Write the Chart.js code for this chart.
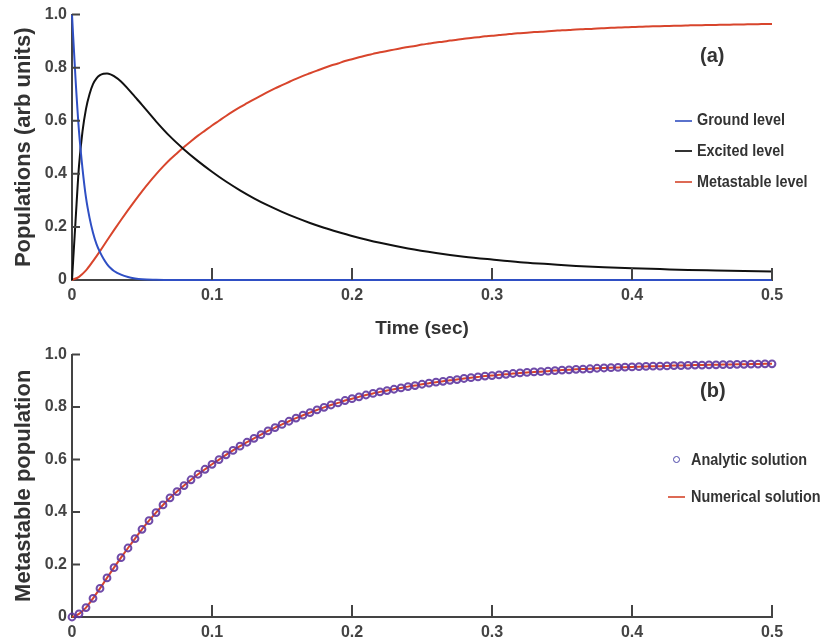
<!DOCTYPE html>
<html>
<head>
<meta charset="utf-8">
<script src="https://cdn.jsdelivr.net/npm/chart.js@4.4.1/dist/chart.umd.min.js"></script>
<style>
  html, body { margin: 0; padding: 0; background: #fff; }
  #wrap { position: relative; width: 825px; height: 643px; overflow: hidden;
          font-family: "Liberation Sans", Arial, sans-serif; }
  canvas { position: absolute; left: 0; }
  #topChart { top: 0; }
  #bottomChart { top: 340px; }
  .lab { position: absolute; font-weight: bold; color: #333; white-space: nowrap;
         font-size: 16px; line-height: 20px; transform: scaleX(0.9); transform-origin: left center; }
  .tag { position: absolute; font-weight: bold; color: #333; font-size: 20px; line-height: 24px; }
  .key { position: absolute; width: 17px; height: 2px; }
  .dot { position: absolute; width: 5px; height: 5px; border: 1.8px solid #4a45a8; border-radius: 50%; }
</style>
</head>
<body>
<div id="wrap">
  <canvas id="topChart" width="825" height="340"></canvas>
  <canvas id="bottomChart" width="825" height="303"></canvas>

  <div class="tag" style="left:700px; top:43px;">(a)</div>
  <div class="key" style="left:675px; top:120px; background:#5a72cc;"></div>
  <div class="lab" style="left:697px; top:110px;">Ground level</div>
  <div class="key" style="left:675px; top:150px; background:#333;"></div>
  <div class="lab" style="left:697px; top:141px;">Excited level</div>
  <div class="key" style="left:675px; top:181px; background:#dd6a55;"></div>
  <div class="lab" style="left:697px; top:172px;">Metastable level</div>

  <div class="tag" style="left:700px; top:378px;">(b)</div>
  <div class="dot" style="left:673px; top:456px;"></div>
  <div class="lab" style="left:691px; top:450px;">Analytic solution</div>
  <div class="key" style="left:668px; top:496px; background:#dd6a55;"></div>
  <div class="lab" style="left:691px; top:487px;">Numerical solution</div>
</div>

<script>
// tiempos (s) para niveles fundamental y excitado
const tTop = [0, 0.0025, 0.005, 0.0075, 0.01, 0.0125, 0.015, 0.0175, 0.02, 0.0225,
  0.025, 0.0275, 0.03, 0.035, 0.04, 0.045, 0.05, 0.06, 0.07, 0.08, 0.09, 0.1,
  0.11, 0.12, 0.13, 0.14, 0.15, 0.16, 0.17, 0.18, 0.19, 0.2, 0.22, 0.24, 0.26,
  0.28, 0.3, 0.32, 0.34, 0.36, 0.38, 0.4, 0.42, 0.44, 0.46, 0.48, 0.5];

const ground = [1, 0.76, 0.56, 0.42, 0.31, 0.235, 0.178, 0.135, 0.105, 0.08,
  0.06, 0.045, 0.034, 0.02, 0.011, 0.006, 0.003, 0.001, 0, 0, 0, 0,
  0, 0, 0, 0, 0, 0, 0, 0, 0, 0, 0, 0, 0,
  0, 0, 0, 0, 0, 0, 0, 0, 0, 0, 0, 0];

const excited = [0, 0.22, 0.43, 0.56, 0.645, 0.70, 0.738, 0.76, 0.772, 0.777,
  0.778, 0.775, 0.768, 0.748, 0.72, 0.69, 0.66, 0.598, 0.541, 0.492, 0.448, 0.408,
  0.371, 0.338, 0.308, 0.281, 0.257, 0.235, 0.215, 0.197, 0.181, 0.166, 0.140, 0.119, 0.102,
  0.088, 0.077, 0.067, 0.060, 0.053, 0.048, 0.044, 0.041, 0.038, 0.036, 0.034, 0.032];

// nivel metaestable, muestreado cada 0.005 s
const metaStep = 0.005;
const metastable = [0, 0.012, 0.036, 0.071, 0.109, 0.149, 0.188, 0.226, 0.263, 0.299,
  0.334, 0.367, 0.398, 0.427, 0.454, 0.478, 0.501, 0.523, 0.544, 0.563,
  0.582, 0.600, 0.618, 0.635, 0.651, 0.666, 0.681, 0.695, 0.709, 0.722,
  0.734, 0.746, 0.758, 0.769, 0.779, 0.789, 0.799, 0.808, 0.816, 0.825,
  0.832, 0.839, 0.846, 0.852, 0.858, 0.863, 0.868, 0.873, 0.878, 0.882,
  0.887, 0.891, 0.895, 0.898, 0.902, 0.905, 0.909, 0.912, 0.915, 0.918,
  0.920, 0.923, 0.925, 0.928, 0.930, 0.932, 0.934, 0.935, 0.937, 0.939,
  0.941, 0.942, 0.944, 0.945, 0.946, 0.948, 0.949, 0.950, 0.951, 0.952,
  0.953, 0.954, 0.955, 0.956, 0.956, 0.957, 0.958, 0.958, 0.959, 0.960,
  0.960, 0.961, 0.961, 0.962, 0.962, 0.963, 0.963, 0.964, 0.964, 0.965,
  0.965];

const xTicks = [0, 0.1, 0.2, 0.3, 0.4, 0.5];
const yTicks = [0, 0.2, 0.4, 0.6, 0.8, 1.0];

const pts = (xs, ys) => ys.map((v, i) => ({ x: xs[i], y: v }));
const metaPts = metastable.map((v, i) => ({ x: i * metaStep, y: v }));

Chart.defaults.font.family = '"Liberation Sans", Arial, sans-serif';
Chart.defaults.color = "#444";

const fmt = (v) => (Math.abs(v) < 1e-9 ? "0" : v.toFixed(1));

// marcas de los ejes hacia dentro (estilo matlab)
const inwardTicks = {
  id: "inwardTicks",
  afterDatasetsDraw(chart) {
    const { ctx, chartArea, scales } = chart;
    ctx.save();
    ctx.strokeStyle = "#444";
    ctx.lineWidth = 2;
    ctx.beginPath();
    xTicks.forEach((v) => {
      if (v === 0) return;
      const px = scales.x.getPixelForValue(v);
      ctx.moveTo(px, chartArea.bottom);
      ctx.lineTo(px, chartArea.bottom - 12);
    });
    yTicks.forEach((v) => {
      if (v === 0) return;
      const py = scales.y.getPixelForValue(v);
      ctx.moveTo(chartArea.left, py);
      ctx.lineTo(chartArea.left + 8, py);
    });
    ctx.stroke();
    ctx.restore();
  },
};

function makeScales(yTitle, xTitle, xHeight) {
  return {
    x: {
      type: "linear",
      min: 0,
      max: 0.5,
      grid: { display: false, drawTicks: false },
      border: { display: true, color: "#444", width: 2 },
      ticks: {
        stepSize: 0.1,
        padding: 6,
        maxRotation: 0,
        color: "#444",
        font: { size: 16, weight: "bold" },
        callback: fmt,
      },
      title: {
        display: !!xTitle,
        text: xTitle,
        color: "#333",
        padding: { top: 0, bottom: 0 },
        font: { size: 19, weight: "bold" },
      },
      afterFit(scale) {
        scale.height = xHeight;
      },
    },
    y: {
      min: 0,
      max: 1,
      grid: { display: false, drawTicks: false },
      border: { display: true, color: "#444", width: 2 },
      ticks: {
        stepSize: 0.2,
        padding: 5,
        color: "#444",
        font: { size: 16, weight: "bold" },
        callback: fmt,
      },
      title: {
        display: true,
        text: yTitle,
        color: "#333",
        padding: { top: 11, bottom: 0 },
        font: { size: 22, weight: "bold" },
      },
      afterFit(scale) {
        scale.width = 72;
      },
    },
  };
}

const lineDefaults = {
  pointRadius: 0,
  borderWidth: 2,
  cubicInterpolationMode: "monotone",
  clip: false,
};

new Chart(document.getElementById("topChart"), {
  type: "line",
  data: {
    datasets: [
      { ...lineDefaults, label: "Ground level", data: pts(tTop, ground), borderColor: "#2f4fc4" },
      { ...lineDefaults, label: "Excited level", data: pts(tTop, excited), borderColor: "#111" },
      { ...lineDefaults, label: "Metastable level", data: metaPts, borderColor: "#d8452c" },
    ],
  },
  options: {
    responsive: false,
    animation: false,
    layout: { padding: { top: 13, right: 53, bottom: 0, left: 0 } },
    plugins: { legend: { display: false }, tooltip: { enabled: false } },
    scales: makeScales("Populations (arb units)", "Time (sec)", 60),
  },
  plugins: [inwardTicks],
});

new Chart(document.getElementById("bottomChart"), {
  type: "line",
  data: {
    datasets: [
      {
        label: "Analytic solution",
        data: metaPts,
        showLine: false,
        pointRadius: 3.4,
        pointBorderWidth: 2,
        pointBorderColor: "rgba(95,55,160,0.9)",
        pointBackgroundColor: "transparent",
        clip: false,
      },
      { ...lineDefaults, label: "Numerical solution", data: metaPts, borderColor: "#d8452c" },
    ],
  },
  options: {
    responsive: false,
    animation: false,
    layout: { padding: { top: 10, right: 53, bottom: 0, left: 0 } },
    plugins: { legend: { display: false }, tooltip: { enabled: false } },
    scales: makeScales("Metastable population", "", 26),
  },
  plugins: [inwardTicks],
});
</script>
</body>
</html>
